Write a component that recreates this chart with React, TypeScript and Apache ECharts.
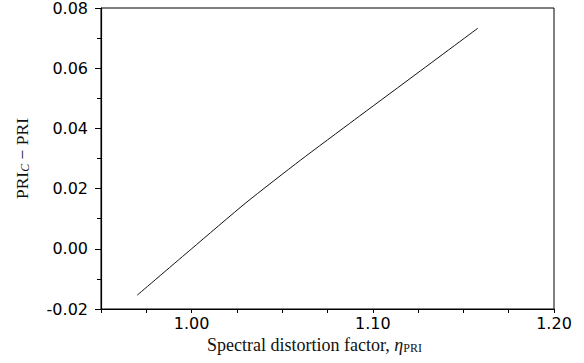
import React, { useEffect, useRef } from "react";
import * as echarts from "echarts";

const etaValues = [0.97, 1.0, 1.03, 1.06, 1.09, 1.12, 1.158];
const priDiffValues = [-0.0154, 0.0, 0.0153, 0.0294, 0.0429, 0.0563, 0.0733];
const xTickLabels = ["1.00", "1.10", "1.20"];
const yTickLabels = ["-0.02", "0.00", "0.02", "0.04", "0.06", "0.08"];

export default function App() {
  const ref = useRef<HTMLDivElement>(null);
  useEffect(() => {
    document.body.style.margin = "0";
    const chart = echarts.init(ref.current!, null, { renderer: "svg" });
    const data = etaValues.map((x, i) => [x, priDiffValues[i]]);
    const serif = "'Liberation Serif', 'DejaVu Serif', serif";
    const sans = "'DejaVu Sans', sans-serif";
    chart.setOption({
      animation: false,
      grid: {
        left: 101,
        right: 30,
        top: 8,
        bottom: 54,
        show: true,
        borderColor: "#000",
        borderWidth: 1,
        backgroundColor: "transparent",
      },
      xAxis: {
        type: "value",
        min: 0.95,
        max: 1.2,
        interval: 0.025,
        splitLine: { show: false },
        axisLine: { show: true, onZero: false, lineStyle: { color: "#000", width: 1.2 } },
        axisTick: { show: true, length: 4, lineStyle: { color: "#000" } },
        axisLabel: {
          interval: 0,
          margin: 6,
          fontFamily: sans,
          fontSize: 16,
          color: "#000",
          formatter: (v: number) => {
            const k = Math.round(v * 40);
            if (k % 4 !== 0) return "";
            const s = v.toFixed(2);
            return xTickLabels.includes(s) ? s : "";
          },
        },
        name: "{n|Spectral distortion factor, }{eta|η}{sub|PRI}",
        nameLocation: "middle",
        nameGap: 26,
        nameTextStyle: {
          padding: [0, 26, 0, 0],
          rich: {
            n: { fontFamily: serif, fontSize: 18, color: "#111" },
            eta: { fontFamily: serif, fontSize: 18, fontStyle: "italic", color: "#111" },
            sub: { fontFamily: serif, fontSize: 12, color: "#111", padding: [7, 0, 0, 0] },
          },
        },
      },
      yAxis: {
        type: "value",
        min: -0.02,
        max: 0.08,
        interval: 0.02,
        splitLine: { show: false },
        axisLine: { show: true, onZero: false, lineStyle: { color: "#000", width: 1.2 } },
        axisTick: { show: true, length: 6, lineStyle: { color: "#000" } },
        minorTick: { show: true, splitNumber: 2, length: 4, lineStyle: { color: "#000" } },
        axisLabel: {
          margin: 13,
          fontFamily: sans,
          fontSize: 16,
          color: "#000",
          formatter: (v: number) => {
            const s = v.toFixed(2);
            const t = s === "-0.00" ? "0.00" : s;
            return yTickLabels.includes(t) ? t : "";
          },
        },
        name: "{n|PRI}{sub|C}{n| − PRI}",
        nameLocation: "middle",
        nameGap: 70,
        nameTextStyle: {
          rich: {
            n: { fontFamily: serif, fontSize: 17.5, color: "#111" },
            sub: { fontFamily: serif, fontSize: 12, fontStyle: "italic", color: "#111", padding: [7, 0, 0, 0] },
          },
        },
      },
      series: [
        {
          type: "line",
          data,
          showSymbol: false,
          smooth: 0.2,
          lineStyle: { color: "#111", width: 1 },
        },
      ],
    });
    return () => chart.dispose();
  }, []);
  return <div ref={ref} style={{ width: 584, height: 363 }} />;
}
